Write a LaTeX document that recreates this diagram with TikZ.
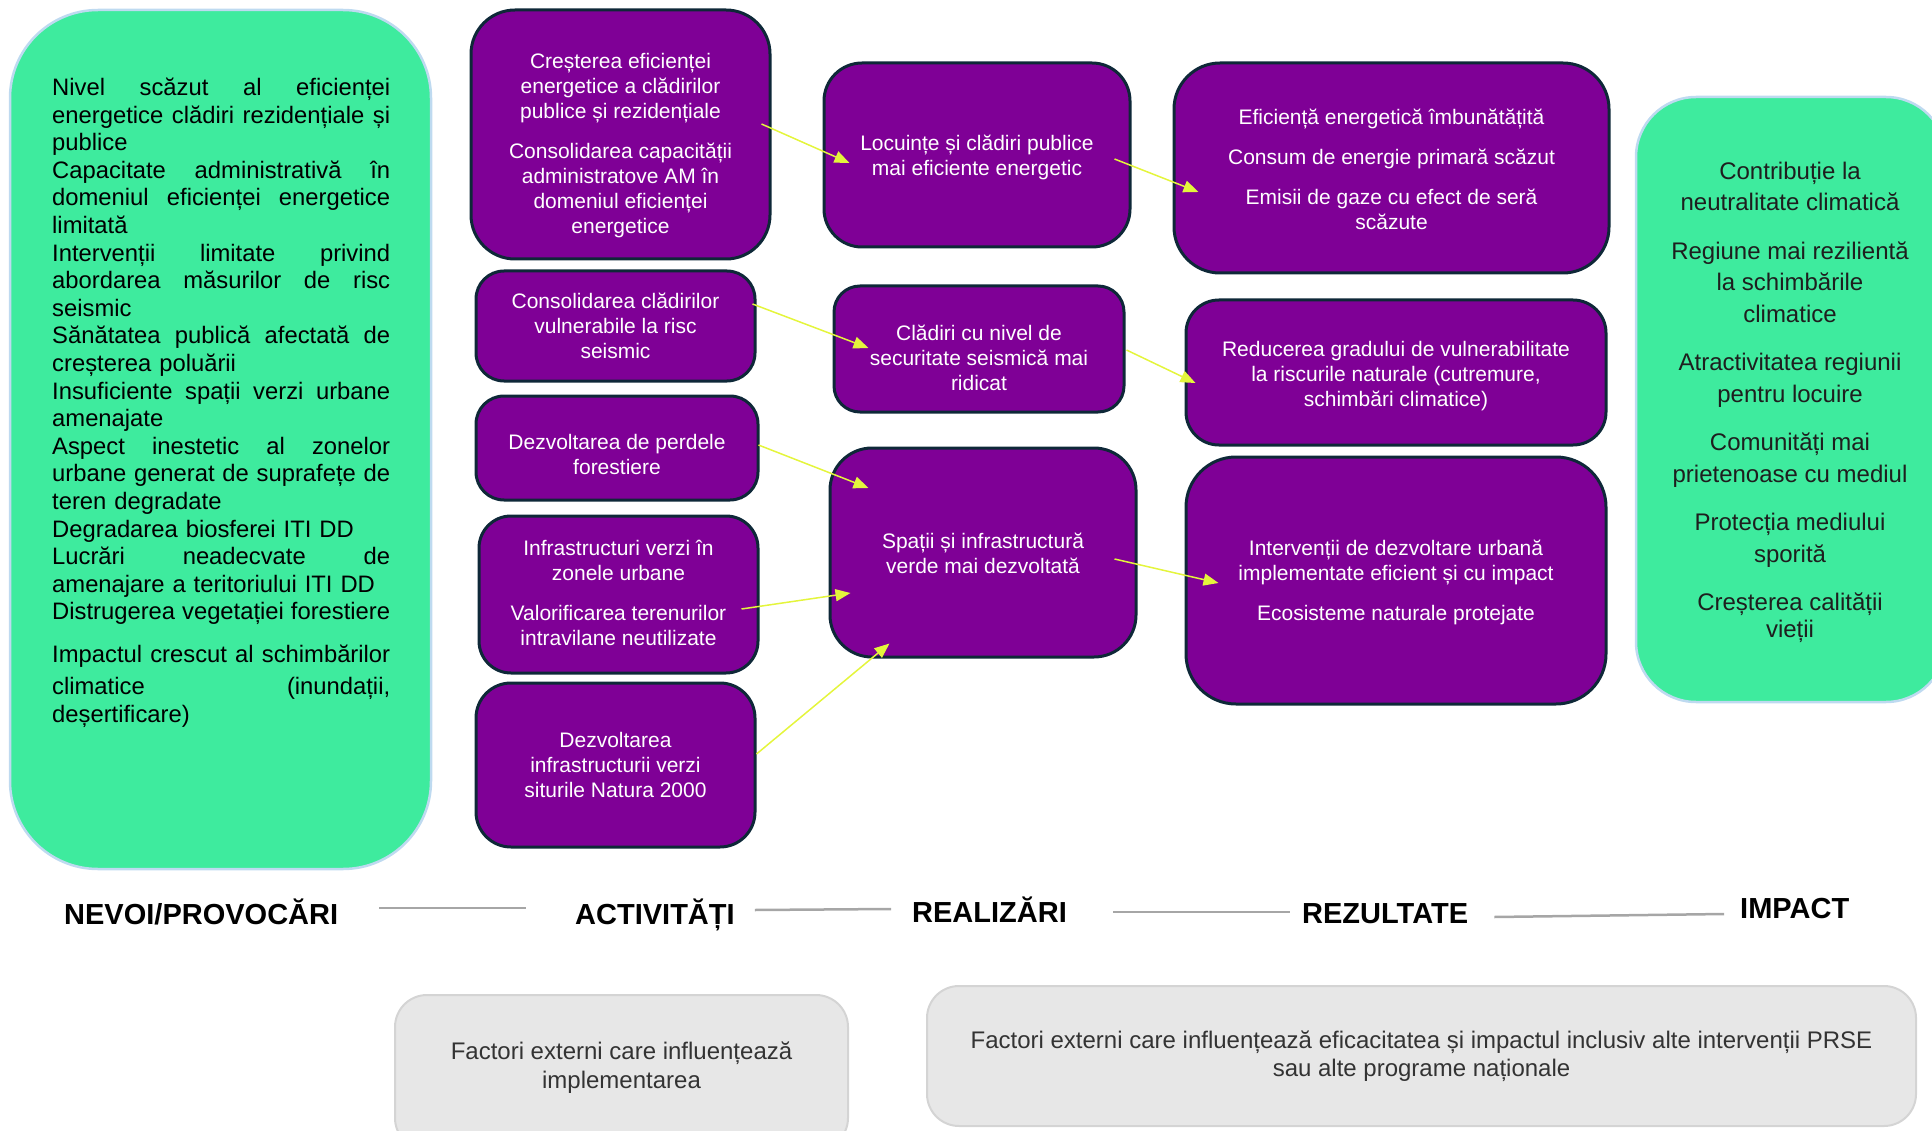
\documentclass[tikz,border=0pt]{standalone}
\usepackage{fontspec}
\setmainfont{Liberation Sans}
\usetikzlibrary{arrows.meta,calc}
\definecolor{needgreen}{RGB}{62,235,158}
\definecolor{edgeblue}{RGB}{190,218,240}
\definecolor{boxpurple}{RGB}{127,0,150}
\definecolor{boxedge}{RGB}{14,40,56}
\definecolor{arrowyellow}{RGB}{228,245,60}
\definecolor{factgray}{RGB}{231,231,231}
\definecolor{factedge}{RGB}{212,212,212}
\definecolor{sepgray}{RGB}{166,166,166}
\definecolor{darktext}{RGB}{30,30,30}
% one justified line of the needs list
\newcommand{\jl}[1]{\leavevmode\hbox to 338pt{\spaceskip=0.278em plus 1fil\relax#1}}

\begin{document}
\begin{tikzpicture}[x=1pt,y=-1pt,
  greenbox/.style={draw=edgeblue,line width=2.5pt,fill=needgreen,inner sep=0pt},
  purplebox/.style={draw=boxedge,line width=3pt,fill=boxpurple,inner sep=0pt},
  factbox/.style={draw=factedge,line width=2pt,fill=factgray,inner sep=0pt},
  purpletext/.style={text=white,align=center,inner sep=0pt,font=\fontsize{21}{25}\selectfont},
  impacttext/.style={text=darktext,align=center,inner sep=0pt,font=\fontsize{24}{31.5}\selectfont},
  facttext/.style={text=black!80,align=center,inner sep=0pt,font=\fontsize{24}{28.5}\selectfont},
  stagelabel/.style={anchor=base west,inner sep=0pt,font=\fontsize{29}{34}\selectfont\bfseries},
  sepline/.style={draw=sepgray,line width=2.5pt},
  flowarrow/.style={draw=arrowyellow,line width=1.5pt,-{Triangle[length=15pt,width=12pt]}}]
\useasboundingbox (0,0) rectangle (1932,1131);
\clip (0,0) rectangle (1932,1131);

% needs
\node[greenbox,minimum width=421,minimum height=859,rounded corners=88] (needs) at (220.5,439.5) {};
\node[anchor=base west,inner sep=0pt,text width=338pt,align=left,font=\fontsize{23.8}{27.6}\selectfont] (needstext) at (52,95.5) {%
\jl{Nivel scăzut al eficienței}\\
\jl{energetice clădiri rezidențiale și}\\
publice\\
\jl{Capacitate administrativă în}\\
\jl{domeniul eficienței energetice}\\
limitată\\
\jl{Intervenții limitate privind}\\
\jl{abordarea măsurilor de risc}\\
seismic\\
\jl{Sănătatea publică afectată de}\\
creșterea poluării\\
\jl{Insuficiente spații verzi urbane}\\
amenajate\\
\jl{Aspect inestetic al zonelor}\\
\jl{urbane generat de suprafețe de}\\
teren degradate\\
Degradarea biosferei ITI DD\\
\jl{Lucrări neadecvate de}\\
amenajare a teritoriului ITI DD\\
\jl{Distrugerea vegetației forestiere}\par
\vspace{11pt}\fontsize{23.8}{32}\selectfont
\jl{Impactul crescut al schimbărilor}\\
\jl{climatice (inundații,}\\
deșertificare)};

% activities
\node[purplebox,minimum width=299,minimum height=249,rounded corners=44] (a1) at (620.5,134.5) {};
\node[purpletext] (a1t) at ($(a1)+(0,11)$) {Creșterea eficienței\\energetice a clădirilor\\publice și rezidențiale\\[15pt]Consolidarea capacității\\administratove AM în\\domeniul eficienței\\energetice};
\node[purplebox,minimum width=279,minimum height=110,rounded corners=28] (a2) at (615.5,326) {};
\node[purpletext] (a2t) at (a2) {Consolidarea clădirilor\\vulnerabile la risc\\seismic};
\node[purplebox,minimum width=282,minimum height=104,rounded corners=28] (a3) at (617,448) {};
\node[purpletext] (a3t) at ($(a3)+(0,6.5)$) {Dezvoltarea de perdele\\forestiere};
\node[purplebox,minimum width=279,minimum height=157,rounded corners=32] (a4) at (618.5,594.5) {};
\node[purpletext] (a4t) at ($(a4)+(0,-1.5)$) {Infrastructuri verzi în\\zonele urbane\\[15pt]Valorificarea terenurilor\\intravilane neutilizate};
\node[purplebox,minimum width=279,minimum height=164,rounded corners=35] (a5) at (615.5,765) {};
\node[purpletext] (a5t) at (a5) {Dezvoltarea\\infrastructurii verzi\\siturile Natura 2000};

% outputs
\node[purplebox,minimum width=306,minimum height=184,rounded corners=38] (r1) at (977,155) {};
\node[purpletext] (r1t) at ($(r1)+(0,2.5)$) {Locuințe și clădiri publice\\mai eficiente energetic};
\node[purplebox,minimum width=290,minimum height=126,rounded corners=26] (r2) at (979,349) {};
\node[purpletext] (r2t) at ($(r2)+(0,9)$) {Clădiri cu nivel de\\securitate seismică mai\\ridicat};
\node[purplebox,minimum width=306,minimum height=209,rounded corners=42] (r3) at (983,552.5) {};
\node[purpletext] (r3t) at ($(r3)+(0,1)$) {Spații și infrastructură\\verde mai dezvoltată};

% results
\node[purplebox,minimum width=435,minimum height=210,rounded corners=46] (z1) at (1391.5,168) {};
\node[purpletext] (z1t) at ($(z1)+(0,1)$) {Eficiență energetică îmbunătățită\\[15pt]Consum de energie primară scăzut\\[15pt]Emisii de gaze cu efect de seră\\scăzute};
\node[purplebox,minimum width=420,minimum height=145,rounded corners=33] (z2) at (1396,372.5) {};
\node[purpletext] (z2t) at ($(z2)+(0,3.5)$) {Reducerea gradului de vulnerabilitate\\la riscurile naturale (cutremure,\\schimbări climatice)};
\node[purplebox,minimum width=420,minimum height=247,rounded corners=50] (z3) at (1396,580.5) {};
\node[purpletext] (z3t) at ($(z3)+(0,2)$) {Intervenții de dezvoltare urbană\\implementate eficient și cu impact\\[15pt]Ecosisteme naturale protejate};

% impact
\node[greenbox,minimum width=310,minimum height=605,rounded corners=60] (impact) at (1791,399.5) {};
\node[impacttext] (impactt) at (1790,402.5) {Contribuție la\\neutralitate climatică\\[17pt]Regiune mai rezilientă\\la schimbările\\climatice\\[17pt]Atractivitatea regiunii\\pentru locuire\\[17pt]Comunități mai\\prietenoase cu mediul\\[17pt]Protecția mediului\\sporită\\[17pt]Creșterea calității\\[-4.5pt]vieții};

% arrows
\draw[flowarrow] ($(a1.east)+(-10,-10.5)$) -- ($(r1.west)+(27,8)$);
\draw[flowarrow] ($(a2.east)+(-4,-22)$) -- ($(r2.west)+(36,-1)$);
\draw[flowarrow] ($(a3.east)+(-1,-3)$) -- ($(r3.west)+(40,-64.5)$);
\draw[flowarrow] ($(a4.east)+(-18,14.5)$) -- ($(r3.west)+(22,40.5)$);
\draw[flowarrow] ($(a5.east)+(0,-11)$) -- ($(r3.south west)+(61,-15)$);
\draw[flowarrow] ($(r1.east)+(-17,4)$) -- ($(z1.west)+(26,24)$);
\draw[flowarrow] ($(r2.east)+(1,1)$) -- ($(z2.west)+(11,10.5)$);
\draw[flowarrow] ($(r3.east)+(-23,6.5)$) -- ($(z3.west)+(34,2.5)$);

% stages
\node[stagelabel] (nevoi) at (64,924) {NEVOI/PROVOCĂRI};
\node[stagelabel] (activ) at (575,924) {ACTIVITĂȚI};
\node[stagelabel] (realiz) at (912,922) {REALIZĂRI};
\node[stagelabel] (rezul) at (1302,923) {REZULTATE};
\node[stagelabel] (impl) at (1740,918) {IMPACT};
\draw[sepline] ([shift={(41,-16)}]nevoi.base east) -- ([shift={(-49,-16)}]activ.base west);
\draw[sepline] ([shift={(20,-14)}]activ.base east) -- ([shift={(-21,-13)}]realiz.base west);
\draw[sepline] ([shift={(46,-10)}]realiz.base east) -- ([shift={(-12,-11)}]rezul.base west);
\draw[sepline] ([shift={(26,-6)}]rezul.base east) -- ([shift={(-16,-4)}]impl.base west);

% external factors
\node[factbox,minimum width=453,minimum height=155,rounded corners=32] (f1) at (621.5,1072.5) {};
\node[facttext] (f1t) at ($(f1)+(0,-5)$) {Factori externi care influențează\\implementarea};
\node[factbox,minimum width=989,minimum height=140,rounded corners=32] (f2) at (1421.5,1056) {};
\node[facttext] (f2t) at (f2) {Factori externi care influențează eficacitatea și impactul inclusiv alte intervenții PRSE\\sau alte programe naționale};
\end{tikzpicture}
\end{document}
